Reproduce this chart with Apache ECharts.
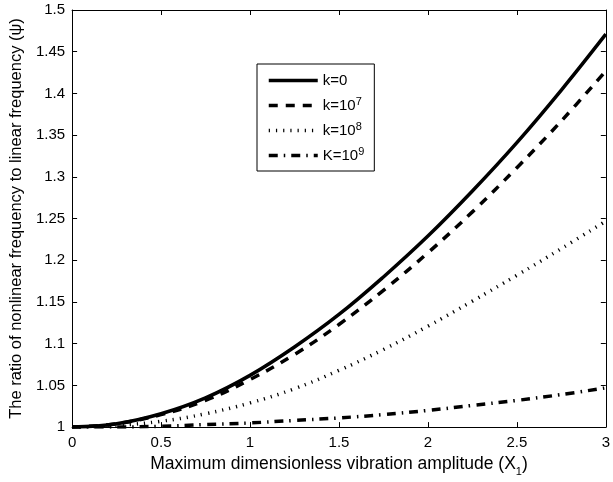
<!DOCTYPE html>
<html>
<head>
<meta charset="utf-8">
<script src="https://cdn.jsdelivr.net/npm/echarts@6/dist/echarts.min.js"></script>
<style>
  html, body { margin: 0; padding: 0; background: #ffffff; }
  #chart { width: 613px; height: 482px; }
</style>
</head>
<body>
<div id="chart"></div>
<script>
// Maximum dimensionless vibration amplitude X1
const amplitude = [0, 0.25, 0.5, 0.75, 1.0, 1.25, 1.5, 1.75, 2.0, 2.25, 2.5, 2.75, 3.0];

// Frequency ratio psi for each stiffness value
const psiK0   = [1.000, 1.004, 1.016, 1.035, 1.062, 1.096, 1.135, 1.180, 1.229, 1.283, 1.341, 1.404, 1.471];
const psiK1e7 = [1.000, 1.004, 1.015, 1.032, 1.057, 1.087, 1.123, 1.164, 1.209, 1.258, 1.311, 1.367, 1.427];
const psiK1e8 = [1.000, 1.002, 1.007, 1.016, 1.029, 1.046, 1.068, 1.093, 1.121, 1.151, 1.182, 1.214, 1.247];
const psiK1e9 = [1.000, 1.000, 1.001, 1.003, 1.005, 1.008, 1.011, 1.015, 1.020, 1.026, 1.032, 1.039, 1.047];

const seriesNames = ['k=0', 'k=10^7', 'k=10^8', 'K=10^9'];

// Tick labels
const xTickLabels = ['0', '0.5', '1', '1.5', '2', '2.5', '3'];
const yTickLabels = ['1', '1.05', '1.1', '1.15', '1.2', '1.25', '1.3', '1.35', '1.4', '1.45', '1.5'];

const FONT = '"Liberation Sans", Arial, sans-serif';

function pairs(ys) {
  return amplitude.map((x, i) => [x, ys[i]]);
}

function labelAt(list, start, step) {
  return function (v) {
    const i = Math.round((v - start) / step);
    return list[i] !== undefined ? list[i] : '';
  };
}

const baseX = {
  type: 'value', min: 0, max: 3, interval: 0.5,
  axisLine: { show: true, onZero: false, lineStyle: { color: '#000', width: 1 } },
  axisTick: { show: true, inside: true, length: 5, lineStyle: { color: '#000' } },
  splitLine: { show: false }
};
const baseY = {
  type: 'value', min: 1, max: 1.5, interval: 0.05,
  axisLine: { show: true, onZero: false, lineStyle: { color: '#000', width: 1 } },
  axisTick: { show: true, inside: true, length: 5, lineStyle: { color: '#000' } },
  splitLine: { show: false }
};

const chart = echarts.init(document.getElementById('chart'), null, { renderer: 'canvas' });

// solid, dashed, dotted, dash-dot
const styles = [
  { type: 'solid', width: 3.5 },
  { type: [9, 8], width: 3.5 },
  { type: [1.2, 6], width: 3.5 },
  { type: [9, 6, 1.5, 6], width: 3.5 }
];

chart.setOption({
  animation: false,
  backgroundColor: '#ffffff',
  textStyle: { fontFamily: FONT },
  grid: { left: 70, right: 5, top: 10, bottom: 49, containLabel: false },
  legend: {
    orient: 'vertical',
    left: 257,
    top: 64,
    backgroundColor: '#ffffff',
    borderColor: '#000',
    borderWidth: 1,
    borderRadius: 0,
    padding: [9, 10, 8, 10],
    itemWidth: 49,
    itemHeight: 14,
    itemGap: 8,
    itemStyle: { opacity: 0 },
    lineStyle: { width: 3.5 },
    data: seriesNames,
    formatter: function (name) {
      return name.replace(/\^(\d+)/, '{sup|$1}').replace(/^([^{]+)/, '{base|$1}');
    },
    textStyle: {
      fontFamily: FONT,
      color: '#000',
      rich: {
        base: { fontSize: 15, lineHeight: 19, fontFamily: FONT, color: '#000' },
        sup: { fontSize: 11, lineHeight: 11, verticalAlign: 'top', fontFamily: FONT, color: '#000' }
      }
    }
  },
  xAxis: [
    Object.assign({}, baseX, {
      position: 'bottom',
      axisLabel: {
        show: true, color: '#000', fontSize: 15, fontFamily: FONT, margin: 8,
        formatter: labelAt(xTickLabels, 0, 0.5)
      },
      name: '{t|Maximum dimensionless vibration amplitude (X}{sub|1}{t|)}',
      nameLocation: 'middle',
      nameGap: 20,
      nameTextStyle: {
        color: '#000',
        rich: {
          t: { fontSize: 17.5, lineHeight: 26, fontFamily: FONT, color: '#000' },
          sub: { fontSize: 11, lineHeight: 11, verticalAlign: 'bottom', fontFamily: FONT, color: '#000' }
        }
      }
    }),
    Object.assign({}, baseX, { position: 'top', axisLabel: { show: false } })
  ],
  yAxis: [
    Object.assign({}, baseY, {
      position: 'left',
      axisLabel: {
        show: true, color: '#000', fontSize: 15, fontFamily: FONT, margin: 7,
        formatter: labelAt(yTickLabels, 1, 0.05)
      },
      name: 'The ratio of nonlinear frequency to linear frequency (\u03C8)',
      nameLocation: 'middle',
      nameGap: 44,
      nameTextStyle: { color: '#000', fontSize: 16.5, fontFamily: FONT }
    }),
    Object.assign({}, baseY, { position: 'right', axisLabel: { show: false } })
  ],
  series: [psiK0, psiK1e7, psiK1e8, psiK1e9].map((ys, i) => ({
    name: seriesNames[i],
    type: 'line',
    xAxisIndex: 0,
    yAxisIndex: 0,
    data: pairs(ys),
    smooth: 0.4,
    symbol: 'none',
    showSymbol: false,
    clip: true,
    lineStyle: { color: '#000', width: styles[i].width, type: styles[i].type, cap: 'butt' },
    itemStyle: { color: '#000' },
    emphasis: { disabled: true }
  }))
});
</script>
</body>
</html>
